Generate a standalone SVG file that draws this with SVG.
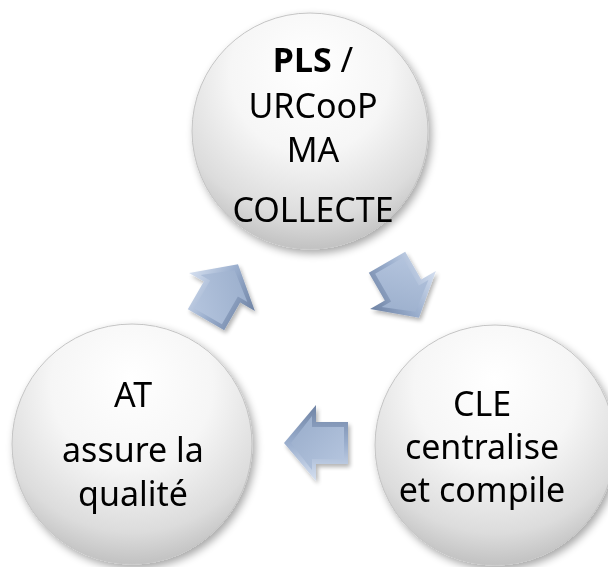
<svg xmlns="http://www.w3.org/2000/svg" width="608" height="567" viewBox="0 0 608 567">
<defs>
<radialGradient id="ball" cx="0.5" cy="0.3" r="0.75" fx="0.5" fy="0.22">
<stop offset="0" stop-color="#ffffff"/>
<stop offset="0.45" stop-color="#f6f6f6"/>
<stop offset="0.78" stop-color="#dcdcdc"/>
<stop offset="1" stop-color="#b8b8b8"/>
</radialGradient>
<linearGradient id="arrOuter" x1="0" y1="0" x2="0" y2="1">
<stop offset="0" stop-color="#d6e0f0"/>
<stop offset="0.5" stop-color="#9aaecd"/>
<stop offset="1" stop-color="#6f83a4"/>
</linearGradient>
<linearGradient id="arrInner" x1="0" y1="0" x2="1" y2="1">
<stop offset="0" stop-color="#b6c6df"/>
<stop offset="1" stop-color="#98acca"/>
</linearGradient>
<filter id="shadow" x="-20%" y="-20%" width="140%" height="140%">
<feGaussianBlur in="SourceAlpha" stdDeviation="4"/>
<feOffset dx="3" dy="4" result="b"/>
<feComponentTransfer><feFuncA type="linear" slope="0.35"/></feComponentTransfer>
<feMerge><feMergeNode/><feMergeNode in="SourceGraphic"/></feMerge>
</filter>
<filter id="ashadow" x="-30%" y="-30%" width="160%" height="160%">
<feGaussianBlur in="SourceAlpha" stdDeviation="2"/>
<feOffset dx="2" dy="3" result="b"/>
<feComponentTransfer><feFuncA type="linear" slope="0.3"/></feComponentTransfer>
<feMerge><feMergeNode/><feMergeNode in="SourceGraphic"/></feMerge>
</filter>
<g id="arrow">
<path d="M-32,-21 L0,-21 L0,-38 L32,0 L0,38 L0,21 L-32,21 Z" fill="url(#arrOuter)"/>
<path d="M-28,-16 L4,-16 L4,-27 L25,0 L4,27 L4,16 L-28,16 Z" fill="url(#arrInner)"/>
</g>
</defs>
<style>
.ball{fill:url(#ball);stroke:#c4c4c4;stroke-width:1;filter:url(#shadow)}
.t{font-family:"Noto Sans","Open Sans",sans-serif;font-size:34px;fill:#000;text-anchor:middle}
.b{font-weight:bold}
</style>
<g id="connectors" filter="url(#ashadow)">
<use href="#arrow" transform="translate(222,292) rotate(-60)"/>
<use href="#arrow" transform="translate(403,290) rotate(60)"/>
<use href="#arrow" transform="translate(316,443) rotate(180)"/>
</g>
<g id="node-collecte">
<circle class="ball" cx="310" cy="131" r="118"/>
<text class="t"><tspan x="313" y="72"><tspan class="b">PLS</tspan> /</tspan><tspan x="313" y="118">URCooP</tspan><tspan x="313" y="162">MA</tspan><tspan x="313" y="222">COLLECTE</tspan></text>
</g>
<g id="node-cle">
<circle class="ball" cx="495" cy="445" r="120"/>
<text class="t"><tspan x="482" y="416">CLE</tspan><tspan x="482" y="459">centralise</tspan><tspan x="482" y="502">et compile</tspan></text>
</g>
<g id="node-at">
<circle class="ball" cx="132" cy="444" r="120"/>
<text class="t"><tspan x="133" y="407">AT</tspan><tspan x="133" y="462">assure la</tspan><tspan x="133" y="506">qualité</tspan></text>
</g>
</svg>
